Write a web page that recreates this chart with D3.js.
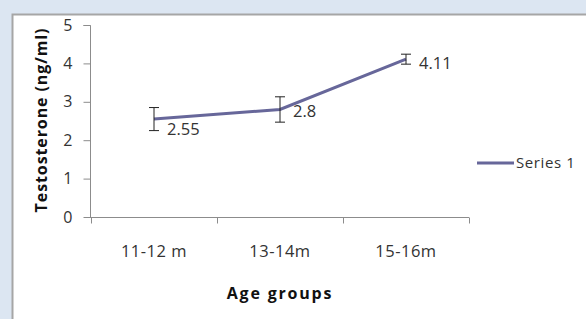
<!DOCTYPE html>
<html>
<head>
<meta charset="utf-8">
<script src="https://cdn.jsdelivr.net/npm/d3@7"></script>
<style>
  body { margin: 0; background: #dce6f2; }
  svg { display: block; }
</style>
</head>
<body>
<script>
// chart data
var categories = ["11-12 m", "13-14m", "15-16m"];
var values = [2.55, 2.8, 4.11];
var errors = [0.3, 0.33, 0.13];
var yTicks = [0, 1, 2, 3, 4, 5];
var seriesName = "Series 1";

var width = 586,
    height = 319;

var lineCol = "#67679a",
    axisCol = "#8c8c8c";

var svg = d3.select("body").append("svg")
    .attr("width", width)
    .attr("height", height);

// white chart panel with grey frame
svg.append("rect")
    .attr("x", 12.5).attr("y", 14.5)
    .attr("width", width).attr("height", height)
    .style("fill", "white")
    .style("stroke", "#a6a6a6")
    .style("stroke-width", 2);

var x = d3.scaleBand()
    .domain(categories)
    .range([91, 469]);

var y = d3.scaleLinear()
    .domain([0, 5])
    .range([217, 25]);

var font = "'Open Sans', sans-serif";

// y axis
var yAxis = svg.append("g")
    .attr("transform", "translate(90.5,0)")
    .call(d3.axisLeft(y).tickValues(yTicks).tickFormat(d3.format("d")).tickSize(7).tickPadding(11));
yAxis.select(".domain").attr("stroke", axisCol).attr("d", "M-7," + (y(5) + 0.5) + "H0V" + (y(0) + 0.5));
yAxis.selectAll(".tick line").attr("stroke", axisCol);
yAxis.selectAll(".tick text")
    .style("font-family", font).style("font-size", "16px").attr("fill", "#333");

// x axis
var xAxis = svg.append("g")
    .attr("transform", "translate(0," + (y(0) + 0.5) + ")");
xAxis.append("line")
    .attr("x1", 90).attr("x2", 469)
    .attr("stroke", axisCol);
xAxis.selectAll(".xt")
    .data(categories.concat([null]))
    .enter().append("line")
    .attr("x1", function(d, i) { return Math.round(i < categories.length ? x(d) : x.range()[1]) + 0.5; })
    .attr("x2", function(d, i) { return Math.round(i < categories.length ? x(d) : x.range()[1]) + 0.5; })
    .attr("y1", 0).attr("y2", 6)
    .attr("stroke", axisCol);
xAxis.selectAll(".xl")
    .data(categories)
    .enter().append("text")
    .attr("x", function(d) { return x(d) + x.bandwidth() / 2; })
    .attr("y", 39)
    .attr("text-anchor", "middle")
    .style("font-family", font).style("font-size", "16.5px")
    .style("letter-spacing", "0.5px")
    .attr("fill", "#333")
    .text(function(d) { return d; });

// axis titles
svg.append("text")
    .attr("transform", "translate(47,120) rotate(-90)")
    .attr("text-anchor", "middle")
    .style("font-family", font).style("font-size", "16px")
    .style("font-weight", "bold").style("letter-spacing", "0.9px")
    .attr("fill", "#111")
    .text("Testosterone (ng/ml)");

svg.append("text")
    .attr("x", 280).attr("y", 299)
    .attr("text-anchor", "middle")
    .style("font-family", font).style("font-size", "16px")
    .style("font-weight", "bold").style("letter-spacing", "1.8px")
    .attr("fill", "#111")
    .text("Age groups");

var cx = function(d, i) { return x(categories[i]) + x.bandwidth() / 2; };

// line
var line = d3.line()
    .x(function(d, i) { return cx(d, i); })
    .y(function(d) { return y(d); });

svg.append("path")
    .datum(values)
    .attr("d", line)
    .style("fill", "none")
    .style("stroke", lineCol)
    .style("stroke-width", 3);

// error bars
var eb = svg.selectAll(".err")
    .data(values)
    .enter().append("g");
eb.append("line")
    .attr("x1", cx).attr("x2", cx)
    .attr("y1", function(d, i) { return y(d + errors[i]); })
    .attr("y2", function(d, i) { return y(d - errors[i]); })
    .attr("stroke", "#222");
eb.append("line")
    .attr("x1", function(d, i) { return cx(d, i) - 5; })
    .attr("x2", function(d, i) { return cx(d, i) + 5; })
    .attr("y1", function(d, i) { return y(d + errors[i]); })
    .attr("y2", function(d, i) { return y(d + errors[i]); })
    .attr("stroke", "#222");
eb.append("line")
    .attr("x1", function(d, i) { return cx(d, i) - 5; })
    .attr("x2", function(d, i) { return cx(d, i) + 5; })
    .attr("y1", function(d, i) { return y(d - errors[i]); })
    .attr("y2", function(d, i) { return y(d - errors[i]); })
    .attr("stroke", "#222");

// data labels
var labelDy = [16, 8, 10];
svg.selectAll(".dl")
    .data(values)
    .enter().append("text")
    .attr("x", function(d, i) { return cx(d, i) + 13; })
    .attr("y", function(d, i) { return y(d) + labelDy[i]; })
    .style("font-family", font).style("font-size", "16.5px")
    .attr("fill", "#333")
    .text(function(d) { return d; });

// legend
svg.append("line")
    .attr("x1", 477).attr("x2", 514)
    .attr("y1", 163).attr("y2", 163)
    .style("stroke", lineCol).style("stroke-width", 3);
svg.append("text")
    .attr("x", 516).attr("y", 168)
    .style("font-family", font).style("font-size", "15px")
    .style("letter-spacing", "0.6px")
    .attr("fill", "#333")
    .text(seriesName);
</script>
</body>
</html>
